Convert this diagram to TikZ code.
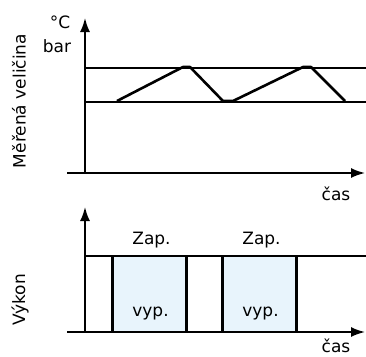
\documentclass[tikz,border=0pt]{standalone}
\usepackage{fontspec}
\setmainfont{DejaVu Sans}
\usetikzlibrary{arrows.meta,positioning,calc}
\definecolor{VypBlue}{HTML}{E8F4FC}
\tikzset{
    axis/.style = {draw, line width=1.8pt, ->},
    level/.style = {draw, line width=1.4pt},
    trend/.style = {draw, line width=2.6pt, line join=round},
    edge/.style = {draw, line width=3pt},
    lbl/.style = {font=\fontsize{17}{20}\selectfont, inner sep=0pt},
    vypbox/.style = {rectangle, fill=VypBlue, inner sep=0pt,
        minimum width=73pt, minimum height=76pt}
}

\begin{document}
\begin{tikzpicture}[x=1pt, y=-1pt, >={Latex[length=14pt,width=10pt]}]
        \useasboundingbox (0,0) rectangle (366,356);
        % upper chart
        \coordinate (o1) at (85,173);
        \coordinate (ytop1) at (85,18);
        \coordinate (xl1) at (67,173);
        \coordinate (xr1) at (365,173);
        \coordinate (hi1) at (85,68);
        \coordinate (hiend1) at (366,68);
        \coordinate (lo1) at (85,102);
        \coordinate (loend1) at (366,102);
        \draw [level] (hi1) -- (hiend1);
        \draw [level] (lo1) -- (loend1);
        \draw [trend] plot coordinates {(117,101) (183,67) (190,67) (223,101) (233,101) (303,67) (311,67) (345,101)};
        \draw [axis] (o1) -- (ytop1);
        \draw [axis] (xl1) -- (xr1);
        \node [lbl, anchor=base] (deg) at (60,28) {°C};
        \node [lbl, anchor=base] (bar) at (57,52) {bar};
        \node [lbl, anchor=base] (cas1) at (336,200) {čas};
        \node [lbl, rotate=90] (mv) at (19,101) {Měřená veličina};
        % lower chart
        \coordinate (o2) at (85,332);
        \coordinate (ytop2) at (85,207);
        \coordinate (xl2) at (67,332);
        \coordinate (xr2) at (365,332);
        \coordinate (on2) at (85,256);
        \coordinate (onend2) at (366,256);
        \node [vypbox] (box1) at (149.5,294) {};
        \node [vypbox] (box2) at (259.5,294) {};
        \foreach \b in {1,2}{
            \draw [edge] (box\b.north west) -- (box\b.south west);
            \draw [edge] (box\b.north east) -- (box\b.south east);
            \node [lbl, anchor=base] (zap\b) at ($(box\b.north)+(2,-11)$) {Zap.};
            \node [lbl, anchor=base] (vyp\b) at ($(box\b.south)+(1,-16)$) {vyp.};
        }
        \draw [level] (on2) -- (onend2);
        \draw [axis] (o2) -- (ytop2);
        \draw [axis] (xl2) -- (xr2);
        \node [lbl, anchor=base] (cas2) at (336,352) {čas};
        \node [lbl, rotate=90] (pw) at (20,300) {Výkon};
\end{tikzpicture}
\end{document}
